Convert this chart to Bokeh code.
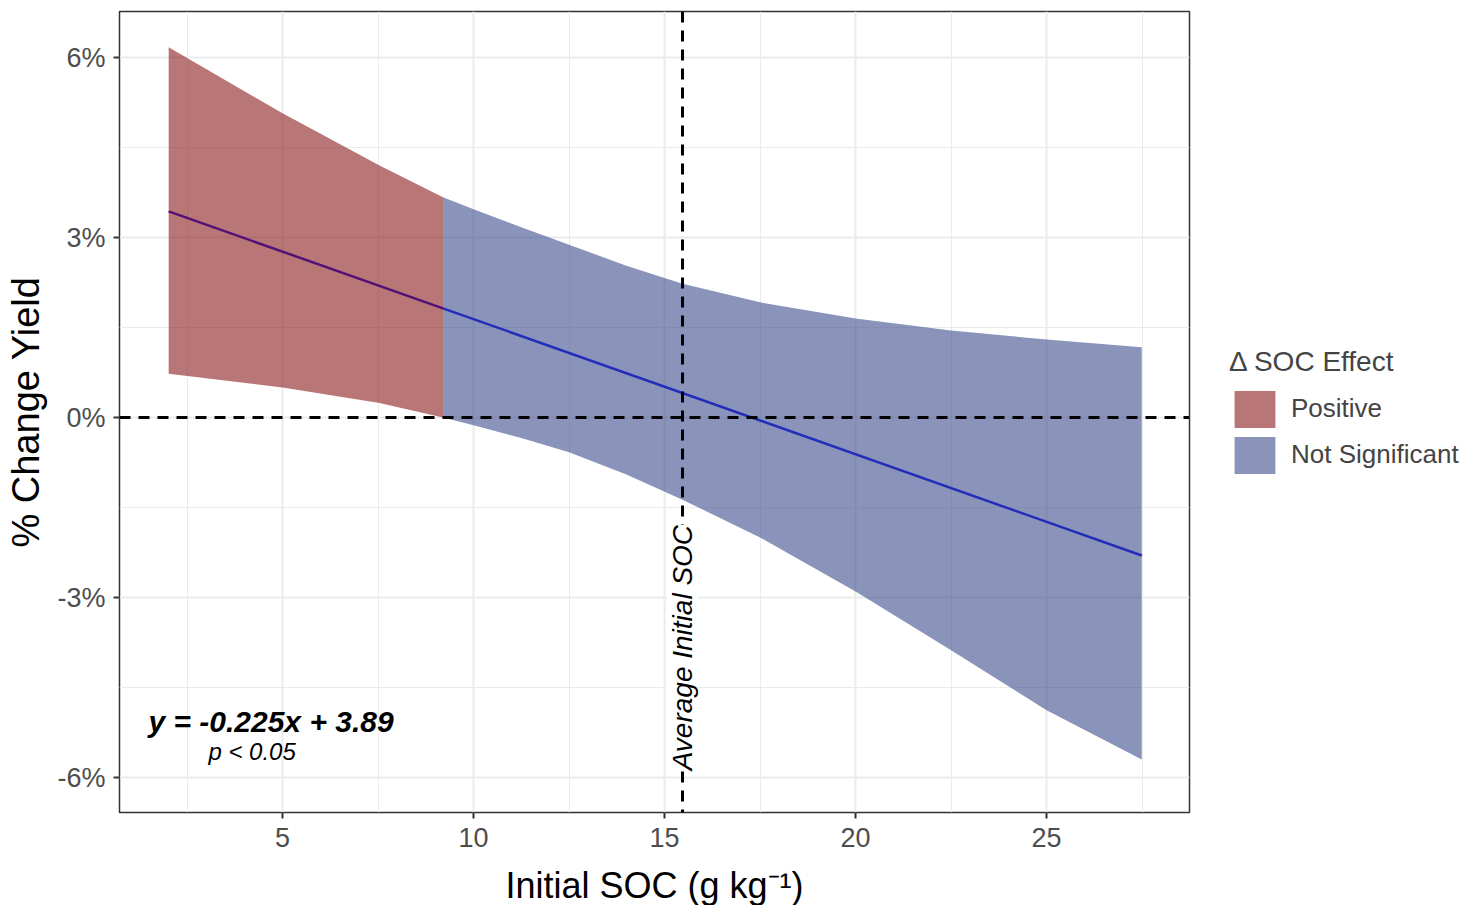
from bokeh.plotting import figure
from bokeh.models import (ColumnDataSource, Span, Label, Legend, LegendItem,
                          FixedTicker, Range1d)
from bokeh.embed import file_html
from bokeh.resources import INLINE

# ---------------- data ----------------
# Positive region of the confidence band
pos_x     = [2.02, 5.0, 7.54, 9.2]
pos_upper = [6.17, 5.07, 4.20, 3.67]
pos_lower = [0.73, 0.50, 0.24, 0.00]
# Not-significant region of the confidence band
ns_x      = [9.2, 10.0, 11.25, 12.5, 14.0, 15.47, 17.5, 20.0, 22.5, 25.0, 27.49]
ns_upper  = [3.67, 3.47, 3.17, 2.88, 2.53, 2.23, 1.92, 1.65, 1.45, 1.30, 1.17]
ns_lower  = [0.00, -0.13, -0.34, -0.58, -0.95, -1.37, -2.00, -2.90, -3.88, -4.88, -5.70]
# fitted line (y = -0.225x + 3.89)
fit_pos_x = [2.02, 9.2]
fit_pos_y = [3.435, 1.82]
fit_ns_x  = [9.2, 27.49]
fit_ns_y  = [1.82, -2.30]
avg_soc = 15.47

x_ticks = [5, 10, 15, 20, 25]
x_minor = [2.5, 7.5, 12.5, 17.5, 22.5, 27.5]
y_ticks = [-6, -3, 0, 3, 6]
y_minor = [-4.5, -1.5, 1.5, 4.5]
y_labels = {-6: "-6%", -3: "-3%", 0: "0%", 3: "3%", 6: "6%"}

FONT = "Liberation Sans"

p = figure(frame_width=1070, frame_height=801,
           x_range=Range1d(0.733, 28.74), y_range=Range1d(-6.583, 6.767),
           output_backend="svg", toolbar_location=None,
           min_border_left=119, min_border_top=11, min_border_bottom=90,
           min_border_right=263)
p.background_fill_color = "white"
p.border_fill_color = "white"
p.outline_line_color = "#333333"
p.outline_line_width = 1.5

# line below ribbons
p.line(fit_pos_x, fit_pos_y, line_color="#0000ff", line_width=2.5)
p.line(fit_ns_x, fit_ns_y, line_color="#0000ff", line_width=2.5)

src_pos = ColumnDataSource(dict(x=pos_x, y1=pos_lower, y2=pos_upper))
src_ns = ColumnDataSource(dict(x=ns_x, y1=ns_lower, y2=ns_upper))
r_pos = p.varea(x="x", y1="y1", y2="y2", source=src_pos,
                fill_color="#8B1A1A", fill_alpha=0.6)
r_ns = p.varea(x="x", y1="y1", y2="y2", source=src_ns,
               fill_color="#3C4B8C", fill_alpha=0.6)

p.add_layout(Span(location=0, dimension="width", line_color="black",
                  line_width=3, line_dash="11 8"))
p.add_layout(Span(location=avg_soc, dimension="height", line_color="black",
                  line_width=3, line_dash="11 8"))

p.add_layout(Label(x=avg_soc, y=-5.88, text="Average Initial SOC", angle=1.5708,
                   text_align="left", text_baseline="middle",
                   text_font=FONT, text_font_size="28px", text_font_style="italic",
                   text_color="black", background_fill_color="white",
                   background_fill_alpha=1.0))
p.add_layout(Label(x=1.49, y=-5.07, text="y = -0.225x + 3.89",
                   text_align="left", text_baseline="middle",
                   text_font=FONT, text_font_size="30px",
                   text_font_style="bold italic", text_color="black"))
p.add_layout(Label(x=3.06, y=-5.57, text="p < 0.05",
                   text_align="left", text_baseline="middle",
                   text_font=FONT, text_font_size="24px",
                   text_font_style="italic", text_color="black"))

# axes
p.xaxis.ticker = FixedTicker(ticks=x_ticks, minor_ticks=x_minor)
p.yaxis.ticker = FixedTicker(ticks=y_ticks, minor_ticks=y_minor)
p.yaxis.major_label_overrides = y_labels
for ax in (p.xaxis, p.yaxis):
    ax.axis_line_color = None
    ax.major_tick_line_color = "#333333"
    ax.major_tick_line_width = 2
    ax.major_tick_out = 6
    ax.major_tick_in = 0
    ax.minor_tick_line_color = None
    ax.major_label_text_font = FONT
    ax.major_label_text_font_size = "27px"
    ax.major_label_text_color = "#4d4d4d"
    ax.axis_label_text_font = FONT
    ax.axis_label_text_font_style = "normal"
    ax.axis_label_text_color = "black"
p.xaxis.axis_label_text_font_size = "36px"
p.yaxis.axis_label_text_font_size = "38px"
p.xaxis.axis_label = "Initial SOC (g kg\u207b\u00b9)"
p.yaxis.axis_label = "% Change Yield"
p.xaxis.major_label_standoff = 9
p.yaxis.major_label_standoff = 8
p.xaxis.axis_label_standoff = 15
p.yaxis.axis_label_standoff = 7

p.grid.grid_line_color = "#ebebeb"
p.grid.grid_line_width = 2
p.grid.minor_grid_line_color = "#ebebeb"
p.grid.minor_grid_line_width = 1

legend = Legend(items=[LegendItem(label="Positive", renderers=[r_pos]),
                       LegendItem(label="Not Significant", renderers=[r_ns])],
                title="\u0394 SOC Effect", location="left")
legend.margin = 40
legend.padding = 0
legend.spacing = 0
legend.glyph_width = 51
legend.glyph_height = 46
legend.label_standoff = 11
legend.title_standoff = 8
legend.label_text_font = FONT
legend.label_text_font_size = "26px"
legend.title_text_font = FONT
legend.title_text_font_size = "28px"
legend.title_text_font_style = "normal"
legend.border_line_color = None
legend.background_fill_alpha = 0
p.add_layout(legend, "right")

open("out.html", "w").write(file_html(p, INLINE))
